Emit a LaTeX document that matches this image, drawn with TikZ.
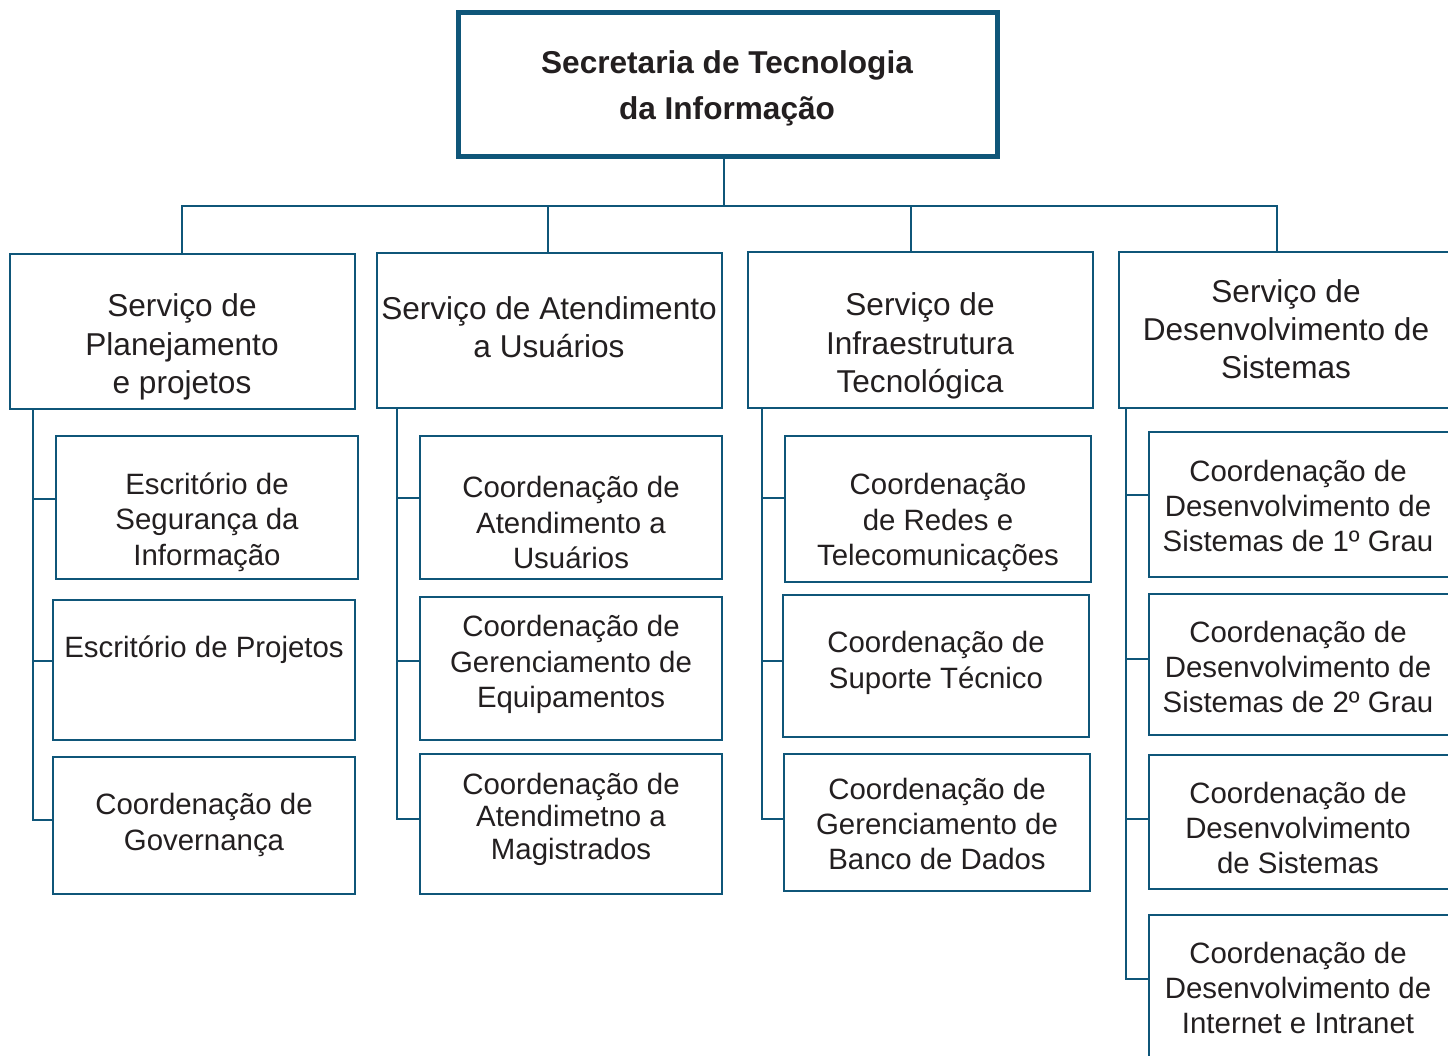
\documentclass[tikz,border=0pt]{standalone}
\usepackage{fontspec}
\setmainfont{Liberation Sans}
\definecolor{edge}{HTML}{0F5679}
\definecolor{ink}{HTML}{231F20}
\tikzset{
  x=1pt, y=-1pt,
  box/.style={draw=edge, line width=2.6pt, fill=white, inner sep=0pt},
  topbox/.style={draw=edge, line width=5pt, fill=white, inner sep=0pt},
  wire/.style={draw=edge, line width=2.6pt},
  lbl/.style={text=ink, align=center, inner sep=0pt, font=\fontsize{29.4}{35.3}\selectfont},
  hlbl/.style={text=ink, align=center, inner sep=0pt, font=\fontsize{31.6}{38.3}\selectfont},
  tlbl/.style={text=ink, align=center, inner sep=0pt, font=\bfseries\fontsize{31.6}{46}\selectfont},
}
\begin{document}
\begin{tikzpicture}
\useasboundingbox (0,0) rectangle (1448,1055);
\fill[white] (0,0) rectangle (1448,1055);

% title
\node[topbox, minimum width=539pt, minimum height=144pt] (top) at (727.5,84) {};
\node[tlbl] (toptxt) at (727,88) {Secretaria de Tecnologia\\da Informação};

% level 1 boxes
\node[box, minimum width=345pt, minimum height=155pt] (sa) at (182.5,331.5) {};
\node[box, minimum width=345pt, minimum height=155pt] (sb) at (549.5,330.5) {};
\node[box, minimum width=345pt, minimum height=156pt] (sc) at (920.5,330) {};
\node[box, minimum width=340pt, minimum height=156pt] (sd) at (1289,330) {};
\node[hlbl] (satxt) at (182,347) {Serviço de\\Planejamento\\e projetos};
\node[hlbl] (sbtxt) at (549,327) {Serviço de Atendimento\\a Usuários};
\node[hlbl] (sctxt) at (920,346) {Serviço de\\Infraestrutura\\Tecnológica};
\node[hlbl] (sdtxt) at (1286,329) {Serviço de\\Desenvolvimento de\\Sistemas};

% top connectors
\coordinate (tdrop) at (724,156);
\coordinate (bus) at (724,206);
\coordinate (sadrop) at (182,254);
\coordinate (sbdrop) at (548,253);
\coordinate (scdrop) at (911,252);
\coordinate (sddrop) at (1277,252);
\draw[wire] (tdrop) -- (bus);
\draw[wire] (sadrop) |- (bus) -| (sddrop);
\draw[wire] (sbdrop) -- (sbdrop |- bus);
\draw[wire] (scdrop) -- (scdrop |- bus);

% column A
\node[box, minimum width=302pt, minimum height=143pt] (a1) at (207,507.5) {};
\node[box, minimum width=302pt, minimum height=140pt] (a2) at (204,670) {};
\node[box, minimum width=302pt, minimum height=137pt] (a3) at (204,825.5) {};
\node[lbl] (a1t) at (207,522) {Escritório de\\Segurança da\\Informação};
\node[lbl] (a2t) at (204,650) {Escritório de Projetos};
\node[lbl] (a3t) at (204,825) {Coordenação de\\Governança};
\coordinate (aa) at (33,409);
\coordinate (ay1) at (0,499);
\coordinate (ay2) at (0,661);
\coordinate (ay3) at (0,820);
\draw[wire] (aa) |- (a3.west |- ay3);
\draw[wire] (aa |- ay1) -- (a1.west |- ay1);
\draw[wire] (aa |- ay2) -- (a2.west |- ay2);

% column B
\node[box, minimum width=302pt, minimum height=143pt] (b1) at (571,507.5) {};
\node[box, minimum width=302pt, minimum height=143pt] (b2) at (571,668.5) {};
\node[box, minimum width=302pt, minimum height=140pt] (b3) at (571,824) {};
\node[lbl] (b1t) at (571,522.5) {Coordenação de\\Atendimento a\\Usuários};
\node[lbl] (b2t) at (571,664.5) {Coordenação de\\Gerenciamento de\\Equipamentos};
\node[lbl, font=\fontsize{29.4}{32.5}\selectfont] (b3t) at (571,819) {Coordenação de\\Atendimetno a\\Magistrados};
\coordinate (bb) at (397,408);
\coordinate (by1) at (0,498);
\coordinate (by2) at (0,661);
\coordinate (by3) at (0,819);
\draw[wire] (bb) |- (b3.west |- by3);
\draw[wire] (bb |- by1) -- (b1.west |- by1);
\draw[wire] (bb |- by2) -- (b2.west |- by2);

% column C
\node[box, minimum width=306pt, minimum height=146pt] (c1) at (938,509) {};
\node[box, minimum width=306pt, minimum height=142pt] (c2) at (936,666) {};
\node[box, minimum width=306pt, minimum height=137pt] (c3) at (937,822.5) {};
\node[lbl] (c1t) at (938,522.5) {Coordenação\\de Redes e\\Telecomunicações};
\node[lbl] (c2t) at (936,663) {Coordenação de\\Suporte Técnico};
\node[lbl] (c3t) at (937,824) {Coordenação de\\Gerenciamento de\\Banco de Dados};
\coordinate (cc) at (762,408);
\coordinate (cy1) at (0,498);
\coordinate (cy2) at (0,661);
\coordinate (cy3) at (0,819);
\draw[wire] (cc) |- (c3.west |- cy3);
\draw[wire] (cc |- cy1) -- (c1.west |- cy1);
\draw[wire] (cc |- cy2) -- (c2.west |- cy2);

% column D
\node[box, minimum width=304pt, minimum height=145pt] (d1) at (1301,504.5) {};
\node[box, minimum width=304pt, minimum height=141pt] (d2) at (1301,664.5) {};
\node[box, minimum width=304pt, minimum height=134pt] (d3) at (1301,822) {};
\node[box, minimum width=304pt, minimum height=160pt] (d4) at (1301,995) {};
\node[lbl] (d1t) at (1298,506) {Coordenação de\\Desenvolvimento de\\Sistemas de 1º Grau};
\node[lbl] (d2t) at (1298,667) {Coordenação de\\Desenvolvimento de\\Sistemas de 2º Grau};
\node[lbl] (d3t) at (1298,828) {Coordenação de\\Desenvolvimento\\de Sistemas};
\node[lbl] (d4t) at (1298,988) {Coordenação de\\Desenvolvimento de\\Internet e Intranet};
\coordinate (dd) at (1126,408);
\coordinate (dy1) at (0,495);
\coordinate (dy2) at (0,659);
\coordinate (dy3) at (0,819);
\coordinate (dy4) at (0,979);
\draw[wire] (dd) |- (d4.west |- dy4);
\draw[wire] (dd |- dy1) -- (d1.west |- dy1);
\draw[wire] (dd |- dy2) -- (d2.west |- dy2);
\draw[wire] (dd |- dy3) -- (d3.west |- dy3);
\end{tikzpicture}
\end{document}
